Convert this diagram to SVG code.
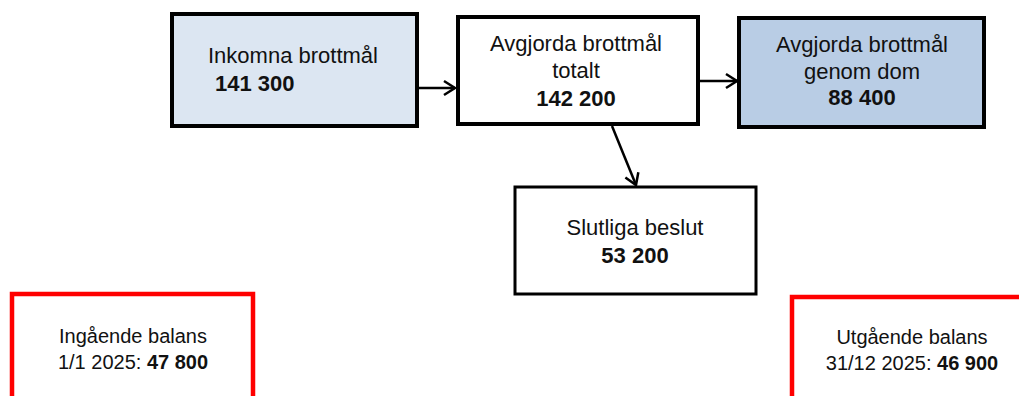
<svg xmlns="http://www.w3.org/2000/svg" width="1019" height="396" viewBox="0 0 1019 396">
<style>
text{font-family:"Liberation Sans",Arial,sans-serif;font-size:22px;fill:#111;}
.c{text-anchor:middle;}
.b{font-weight:bold;}
.s{font-size:20px;}
.box{stroke:#000;stroke-width:4;}
.thin{stroke:#000;stroke-width:3;fill:#fff;}
.red{stroke:#ff0000;stroke-width:4.5;fill:#fff;}
.conn{stroke:#000;stroke-width:2.5;fill:none;}
</style>
<defs>
<marker id="arr" markerUnits="userSpaceOnUse" markerWidth="16" markerHeight="20" viewBox="-13 -9 16 18" refX="0" refY="0" orient="auto">
<path d="M-11,-7 L0,0 L-11,7" fill="none" stroke="#000" stroke-width="2.5"/>
</marker>
</defs>
<g id="connectors">
<line class="conn" x1="417" y1="88" x2="455" y2="88" marker-end="url(#arr)"/>
<line class="conn" x1="699" y1="81" x2="737" y2="81" marker-end="url(#arr)"/>
<line class="conn" x1="612" y1="126" x2="636" y2="185" marker-end="url(#arr)"/>
</g>
<g id="inkomna">
<rect class="box" x="172" y="14" width="245" height="112" fill="#dce6f2"/>
<text x="208" y="63">Inkomna brottmål</text>
<text x="215" y="91" class="b">141 300</text>
</g>
<g id="avgjorda-totalt">
<rect class="box" x="458" y="17" width="240" height="107" fill="#fff"/>
<text x="576" y="51" class="c">Avgjorda brottmål</text>
<text x="576" y="78" class="c">totalt</text>
<text x="576" y="106" class="c b">142 200</text>
</g>
<g id="avgjorda-dom">
<rect class="box" x="739" y="18" width="245" height="109" fill="#b9cde5"/>
<text x="862" y="52" class="c">Avgjorda brottmål</text>
<text x="862" y="79" class="c">genom dom</text>
<text x="862" y="105" class="c b">88 400</text>
</g>
<g id="slutliga">
<rect class="thin" x="515" y="187" width="241" height="107"/>
<text x="635" y="235" class="c">Slutliga beslut</text>
<text x="635" y="263" class="c b">53 200</text>
</g>
<g id="ingaende">
<rect class="red" x="12" y="294" width="241" height="120"/>
<text x="133" y="343" class="c s">Ingående balans</text>
<text x="133" y="369" class="c s">1/1 2025: <tspan class="b">47 800</tspan></text>
</g>
<g id="utgaende">
<rect class="red" x="792" y="297" width="250" height="120"/>
<text x="912" y="344" class="c s">Utgående balans</text>
<text x="912" y="370" class="c s">31/12 2025: <tspan class="b">46 900</tspan></text>
</g>
</svg>
